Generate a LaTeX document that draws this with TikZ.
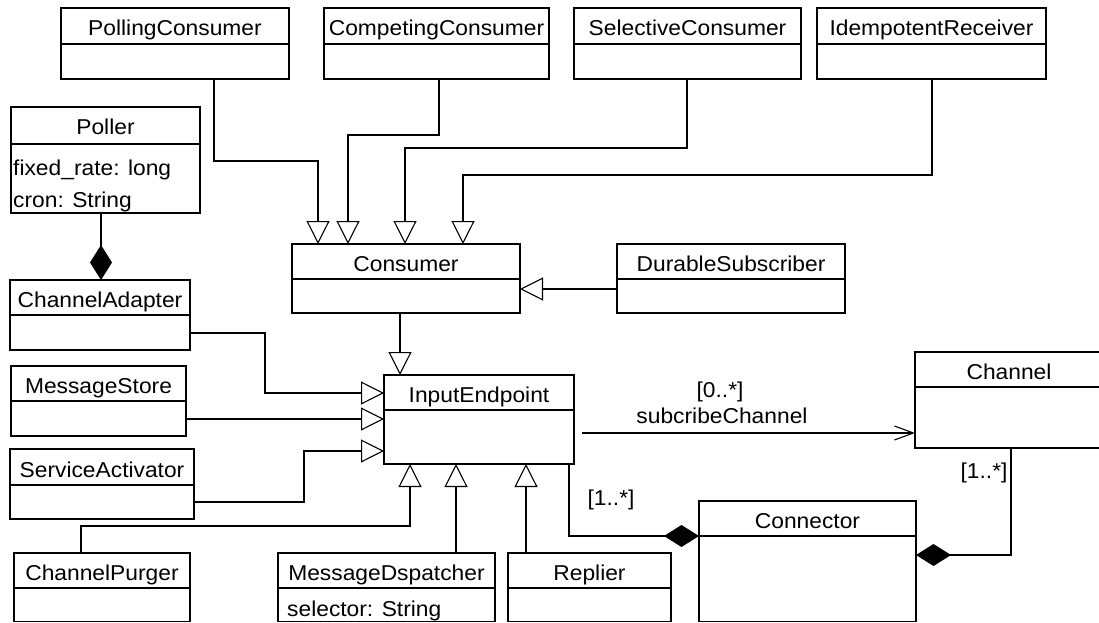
\documentclass[tikz,border=0pt]{standalone}
\usepackage{fontspec}
\setmainfont{Liberation Sans}[FakeStretch=1.06]
\usetikzlibrary{arrows.meta}
\tikzset{
  ln/.style={line width=1.1pt, draw=black},
  cls/.style={ln, rectangle, inner sep=0pt, outer sep=0pt},
  ttl/.style={anchor=base, inner sep=0pt, font=\fontsize{21.5}{24}\selectfont},
  attr/.style={anchor=base west, inner sep=0pt, font=\fontsize{21.5}{24}\selectfont},
  gen/.style={ln, -{Triangle[open, length=23pt, width=23pt]}},
  comp/.style={ln, -{Diamond[length=35pt, width=22pt]}},
  nav/.style={ln, -{Straight Barb[length=19pt, width=14pt]}},
}
\newcommand{\umlclass}[7]{%
  \node[cls, anchor=north west, minimum width={(#4)-(#2)}, minimum height={(#5)-(#3)}] (#1) at (#2,#3) {};
  \draw[ln] (#2,#6) -- (#4,#6);
  \node[ttl] (#1t) at ({((#2)+(#4))/2},{(#6)-8}) {#7};
}
\begin{document}
\begin{tikzpicture}[x=1pt, y=-1pt]
\useasboundingbox[fill=white] (0,0) rectangle (1099,623);
% top row
\umlclass{pc}{61}{8}{289}{79}{44}{PollingConsumer}
\umlclass{cc}{324}{8}{549}{79}{44}{CompetingConsumer}
\umlclass{sc}{574}{8}{801}{79}{44}{SelectiveConsumer}
\umlclass{ir}{817}{8}{1046}{79}{44}{IdempotentReceiver}
% poller
\node[cls, anchor=north west, minimum width=189, minimum height=106] (pol) at (11,107) {};
\draw[ln] (11,144) -- (200,144);
\node[ttl] (polt) at (105.5,135) {Poller};
\node[attr] (pola) at (13,175) {fixed\_rate: long};
\node[attr] (polb) at (13,207) {cron: String};
% middle
\umlclass{cons}{292}{244}{520}{313}{279}{Consumer}
\umlclass{ds}{617}{244}{845}{313}{279}{DurableSubscriber}
\umlclass{ca}{10}{280}{190}{350}{315}{ChannelAdapter}
\umlclass{ms}{11}{366}{186}{436}{401}{MessageStore}
\umlclass{sa}{10}{449}{194}{519}{485}{ServiceActivator}
\umlclass{ie}{384}{375}{574}{464}{410}{InputEndpoint}
\umlclass{ch}{915}{352}{1103}{448}{387}{Channel}
\umlclass{con}{699}{501}{916}{621.5}{536}{Connector}
% bottom row
\umlclass{cp}{14}{553}{190}{621.5}{588}{ChannelPurger}
\umlclass{md}{278}{553}{495}{621.5}{588}{MessageDspatcher}
\node[attr] (mda) at (287,616) {selector: String};
\umlclass{rp}{508}{553}{671}{621.5}{588}{Replier}
% generalisations to Consumer
\draw[gen] (pc.south -| 214,0) |- (318,161) -- (cons.north -| 318,0);
\draw[gen] (cc.south -| 439,0) |- (348,135) -- (cons.north -| 348,0);
\draw[gen] (sc.south -| 687,0) |- (405,148) -- (cons.north -| 405,0);
\draw[gen] (ir.south -| 932,0) |- (463,175) -- (cons.north -| 463,0);
\draw[gen] (ds.west |- 0,289) -- (cons.east |- 0,289);
% generalisations to InputEndpoint
\draw[gen] (cons.south -| 400,0) -- (ie.north -| 400,0);
\draw[gen] (ca.east |- 0,333) -| (265,393) -- (ie.west |- 0,393);
\draw[gen] (ms.east |- 0,419) -- (ie.west |- 0,419);
\draw[gen] (sa.east |- 0,502) -| (304,451) -- (ie.west |- 0,451);
\draw[gen] (cp.north -| 81,0) |- (410,526) -- (ie.south -| 410,0);
\draw[gen] (md.north -| 456,0) -- (ie.south -| 456,0);
\draw[gen] (rp.north -| 526,0) -- (ie.south -| 526,0);
% association
\coordinate (sub0) at (582,433);
\draw[nav] (sub0) -- (ch.west |- sub0);
\node[ttl] (l1) at (720,397) {[0..*]};
\node[ttl] (l2) at (722,423) {subcribeChannel};
% compositions
\draw[comp] (pol.south -| 101,0) -- (ca.north -| 101,0);
\draw[comp] (ie.south -| 569,0) |- (con.west |- 0,536);
\draw[comp] (ch.south -| 1011,0) |- (con.east |- 0,555);
\node[ttl] (l3) at (611,505) {[1..*]};
\node[ttl] (l4) at (984,478) {[1..*]};
\end{tikzpicture}
\end{document}
